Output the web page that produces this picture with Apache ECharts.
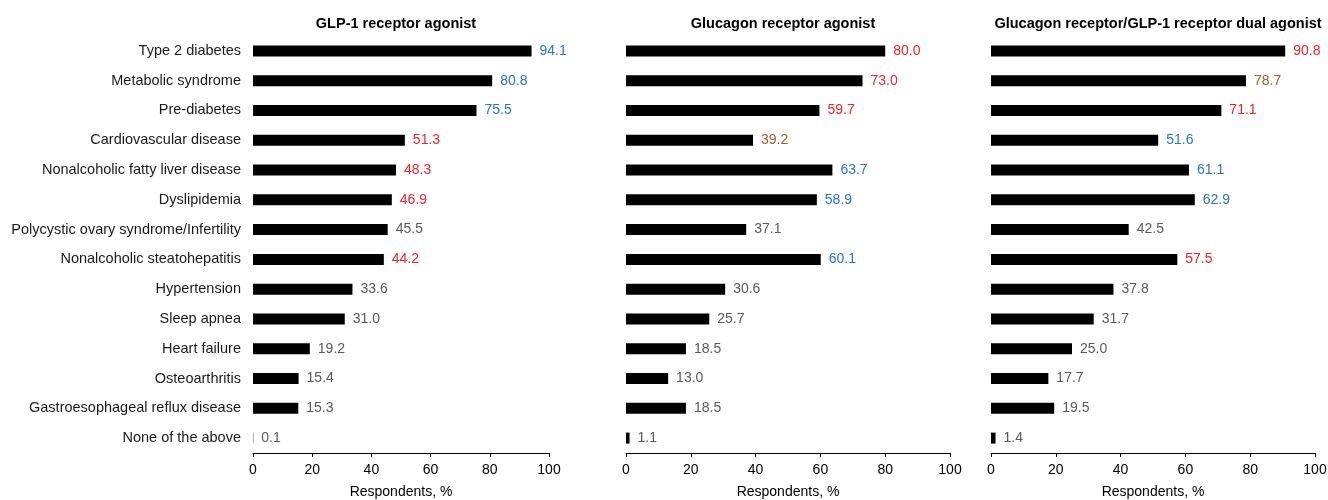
<!DOCTYPE html>
<html>
<head>
<meta charset="utf-8">
<script src="https://cdn.jsdelivr.net/npm/echarts@6/dist/echarts.min.js"></script>
<style>
  html, body { margin: 0; padding: 0; background: #fff; }
  #chart { width: 1328px; height: 500px; }
</style>
</head>
<body>
<div id="chart"></div>
<script>
// Conditions, listed top to bottom
const categories = [
  'Type 2 diabetes',
  'Metabolic syndrome',
  'Pre-diabetes',
  'Cardiovascular disease',
  'Nonalcoholic fatty liver disease',
  'Dyslipidemia',
  'Polycystic ovary syndrome/Infertility',
  'Nonalcoholic steatohepatitis',
  'Hypertension',
  'Sleep apnea',
  'Heart failure',
  'Osteoarthritis',
  'Gastroesophageal reflux disease',
  'None of the above'
];

const panelTitles = [
  'GLP-1 receptor agonist',
  'Glucagon receptor agonist',
  'Glucagon receptor/GLP-1 receptor dual agonist'
];

// Respondents, % per condition
const glp1Values     = [94.1, 80.8, 75.5, 51.3, 48.3, 46.9, 45.5, 44.2, 33.6, 31.0, 19.2, 15.4, 15.3, 0.1];
const glucagonValues = [80.0, 73.0, 59.7, 39.2, 63.7, 58.9, 37.1, 60.1, 30.6, 25.7, 18.5, 13.0, 18.5, 1.1];
const dualValues     = [90.8, 78.7, 71.1, 51.6, 61.1, 62.9, 42.5, 57.5, 37.8, 31.7, 25.0, 17.7, 19.5, 1.4];

// Label highlight group per value: b = blue, r = red, o = brown, n = none
const glp1Marks     = ['b','b','b','r','r','r','n','r','n','n','n','n','n','n'];
const glucagonMarks = ['r','r','r','o','b','b','n','b','n','n','n','n','n','n'];
const dualMarks     = ['r','o','r','b','b','b','n','r','n','n','n','n','n','n'];

const xTicks = [0, 20, 40, 60, 80, 100];
const axisName = 'Respondents, %';

const markColors = { b: '#2e75b6', r: '#e8262b', o: '#95642f', n: '#595959' };
const FONT = '"Liberation Sans", Arial, sans-serif';

const panels = [
  { values: glp1Values, marks: glp1Marks, left: 253, width: 296, titleX: 391 },
  { values: glucagonValues, marks: glucagonMarks, left: 626, width: 324, titleX: 778 },
  { values: dualValues, marks: dualMarks, left: 991, width: 324, titleX: 1153 }
];

const grids = [], xAxes = [], yAxes = [], series = [], titles = [];

panels.forEach((p, i) => {
  grids.push({
    left: p.left, width: p.width, top: 36, bottom: 47,
    containLabel: false,
    outerBoundsMode: 'none'
  });
  titles.push({
    text: panelTitles[i],
    left: p.titleX,
    top: 11,
    textAlign: 'center',
    textStyle: { fontFamily: FONT, fontSize: 14.5, fontWeight: 'bold', color: '#000' }
  });
  xAxes.push({
    type: 'value',
    gridIndex: i,
    min: xTicks[0],
    max: xTicks[xTicks.length - 1],
    interval: xTicks[1] - xTicks[0],
    name: axisName,
    nameLocation: 'middle',
    nameGap: 32,
    nameTextStyle: { fontFamily: FONT, fontSize: 14, color: '#000' },
    axisLine: { show: true, lineStyle: { color: '#000', width: 1 } },
    axisTick: { show: true, length: 4, lineStyle: { color: '#000' } },
    axisLabel: { fontFamily: FONT, fontSize: 14, color: '#000', margin: 10 },
    splitLine: { show: false }
  });
  yAxes.push({
    type: 'category',
    gridIndex: i,
    data: categories,
    inverse: true,
    axisLine: { show: false },
    axisTick: { show: false },
    axisLabel: {
      show: i === 0,
      fontFamily: FONT,
      fontSize: 14.5,
      color: '#1a1a1a',
      margin: 12
    }
  });
  series.push({
    type: 'bar',
    xAxisIndex: i,
    yAxisIndex: i,
    barWidth: 11,
    itemStyle: { color: '#000' },
    animation: false,
    data: p.values.map((v, k) => ({
      value: v,
      label: { color: markColors[p.marks[k]] }
    })),
    label: {
      show: true,
      position: 'right',
      distance: 8,
      fontFamily: FONT,
      fontSize: 14,
      formatter: (d) => d.value.toFixed(1)
    }
  });
});

const chart = echarts.init(document.getElementById('chart'), null, { renderer: 'canvas' });
chart.setOption({
  backgroundColor: '#fff',
  animation: false,
  title: titles,
  grid: grids,
  xAxis: xAxes,
  yAxis: yAxes,
  series: series
});
</script>
</body>
</html>
